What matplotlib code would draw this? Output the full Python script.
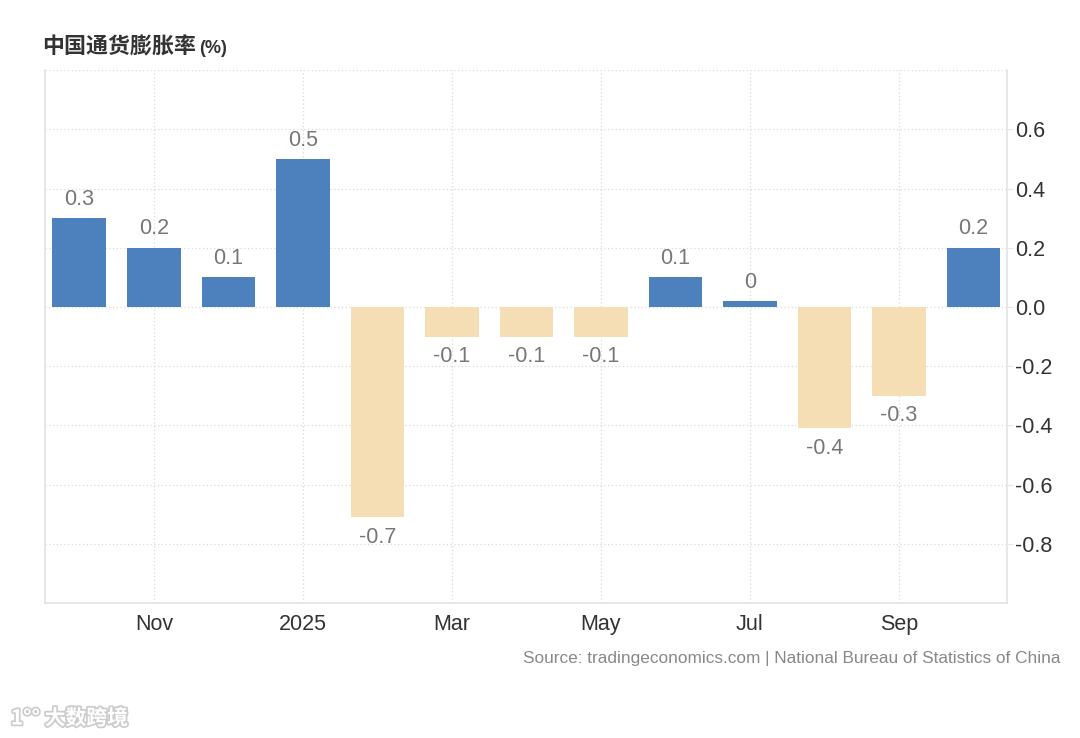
# import visualization libraries, numpy
import numpy as np
import matplotlib.pyplot as plt
import matplotlib.patheffects as pe

plt.rcParams['font.family'] = ['Liberation Sans', 'Noto Sans CJK SC', 'DejaVu Sans']

# data (Oct 2024 - Oct 2025)
months = ['Oct', 'Nov', 'Dec', '2025', 'Feb', 'Mar', 'Apr', 'May', 'Jun', 'Jul', 'Aug', 'Sep', 'Oct']
values = [0.3, 0.2, 0.1, 0.5, -0.71, -0.1, -0.1, -0.1, 0.1, 0.02, -0.41, -0.3, 0.2]
value_labels = ['0.3', '0.2', '0.1', '0.5', '-0.7', '-0.1', '-0.1', '-0.1', '0.1', '0', '-0.4', '-0.3', '0.2']
shown_ticks = ['Nov', '2025', 'Mar', 'May', 'Jul', 'Sep']
y_ticks = [-0.8, -0.6, -0.4, -0.2, 0.0, 0.2, 0.4, 0.6]

blue = '#4d81be'
beige = '#f5deb3'

fig = plt.figure(figsize=(10.8, 7.38), dpi=100)
ax = fig.add_axes([0.0417, 0.183, 0.8907, 0.722])

x = np.arange(len(months))
colors = [blue if v >= 0 else beige for v in values]
bars = ax.bar(x, values, width=0.72, color=colors, zorder=3)

# value labels above / below each bar
for b, v, lab in zip(bars, values, value_labels):
    if v >= 0:
        ax.annotate(lab, (b.get_x() + b.get_width() / 2, v), xytext=(0, 6),
                    textcoords='offset points', ha='center', va='bottom',
                    fontsize=15.5, color='#777777')
    else:
        ax.annotate(lab, (b.get_x() + b.get_width() / 2, v), xytext=(0, -7),
                    textcoords='offset points', ha='center', va='top',
                    fontsize=15.5, color='#777777')

# axes limits and ticks
ax.set_xlim(-0.46, len(months) - 0.55)
ax.set_ylim(-1.0, 0.8)
tick_pos = [months.index(m) for m in shown_ticks]
ax.set_xticks(tick_pos)
ax.set_xticklabels(shown_ticks)
ax.set_yticks(y_ticks)
ax.set_yticklabels([f'{t:.1f}' for t in y_ticks])
ax.yaxis.tick_right()
ax.tick_params(axis='x', length=0, pad=8, labelsize=15.5, labelcolor='#333333')
ax.tick_params(axis='y', length=4, width=0.8, color='#e6e6e6', pad=2,
               labelsize=15.5, labelcolor='#333333')

# dotted grid
for yv in np.arange(-0.8, 0.81, 0.2):
    ax.axhline(yv, color='#d9d9d9', lw=0.9, ls=(0, (1, 2)), zorder=1)
for xv in tick_pos:
    ax.axvline(xv, color='#d9d9d9', lw=0.9, ls=(0, (1, 2)), zorder=1)

for s in ['top']:
    ax.spines[s].set_visible(False)
for s in ['left', 'right', 'bottom']:
    ax.spines[s].set_color('#e3e3e3')
    ax.spines[s].set_linewidth(1.2)

# title
fig.text(0.039, 0.936, '中国通货膨胀率', fontsize=15.8, fontweight='bold', color='#333333',
         family=['Noto Sans CJK SC', 'DejaVu Sans'], va='center')
fig.text(0.184, 0.934, '(%)', fontsize=13, fontweight='bold', color='#333333', va='center')

# source
fig.text(0.982, 0.108, 'Source: tradingeconomics.com | National Bureau of Statistics of China',
         ha='right', va='center', fontsize=12.4, color='#888888')

# watermark
fig.text(0.01, 0.027, '1\u00b0\u00b0 大数跨境', fontsize=15, color='white', fontweight='bold',
         family=['Noto Sans CJK SC', 'DejaVu Sans'], va='center',
         path_effects=[pe.withStroke(linewidth=2.5, foreground='#cccccc')])

plt.savefig('out.png', dpi=100)
